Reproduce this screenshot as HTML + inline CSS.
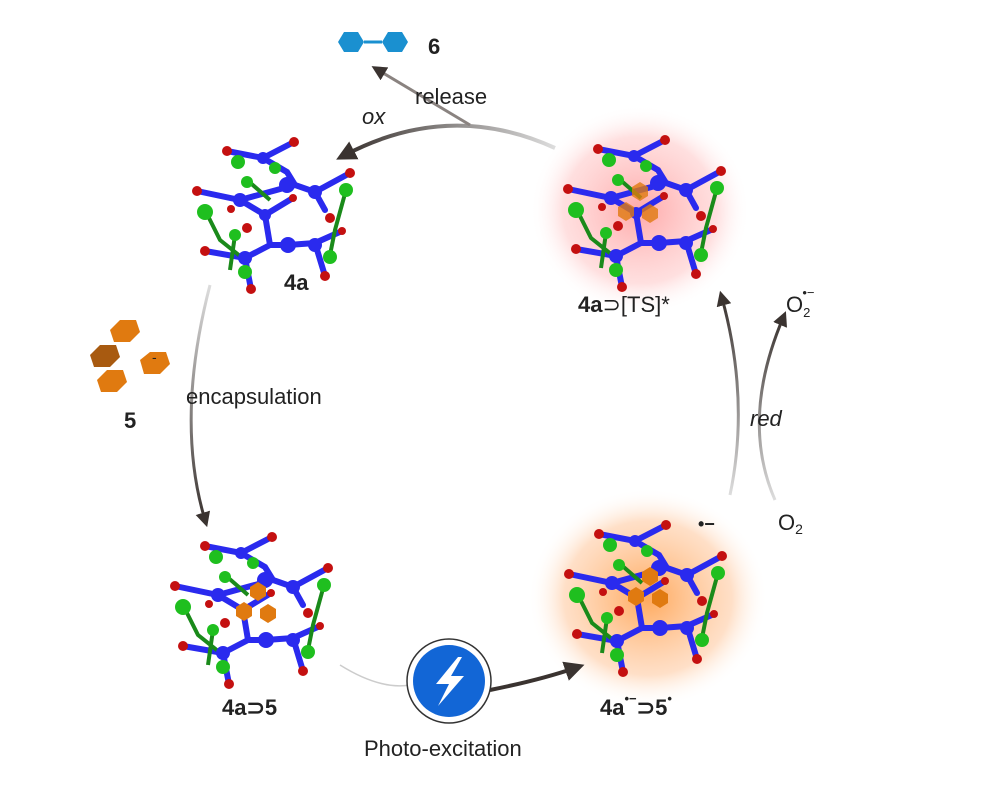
<!DOCTYPE html>
<html><head><meta charset="utf-8"><style>
html,body{margin:0;padding:0;background:#fff;}
svg{display:block;}
text{font-family:"Liberation Sans",sans-serif;fill:#222;}
</style></head><body>
<svg width="996" height="801" viewBox="0 0 996 801" xmlns="http://www.w3.org/2000/svg">
<defs>
<radialGradient id="gr" cx="0.5" cy="0.5" r="0.5"><stop offset="0" stop-color="#ff9a9a" stop-opacity="0.85"/><stop offset="0.7" stop-color="#ffc0c0" stop-opacity="0.5"/><stop offset="1" stop-color="#fff" stop-opacity="0"/></radialGradient>
<radialGradient id="go" cx="0.5" cy="0.5" r="0.5"><stop offset="0" stop-color="#ff9a40" stop-opacity="0.85"/><stop offset="0.7" stop-color="#ffc090" stop-opacity="0.5"/><stop offset="1" stop-color="#fff" stop-opacity="0"/></radialGradient>
<linearGradient id="gt" x1="1" y1="0" x2="0" y2="0"><stop offset="0" stop-color="#ddd"/><stop offset="1" stop-color="#3a3330"/></linearGradient>
<linearGradient id="gl" x1="0" y1="0" x2="0" y2="1"><stop offset="0" stop-color="#ddd"/><stop offset="1" stop-color="#3a3330"/></linearGradient>
<linearGradient id="gv" x1="0" y1="1" x2="0" y2="0"><stop offset="0" stop-color="#ddd"/><stop offset="1" stop-color="#3a3330"/></linearGradient>
<marker id="ah" viewBox="0 0 10 10" refX="5" refY="5" markerWidth="5" markerHeight="5" orient="auto"><path d="M0,0 L10,5 L0,10 z" fill="#3a3330"/></marker>
<g id="cage">
 <g stroke="#2a2aee" stroke-width="6" stroke-linecap="round" fill="none">
  <path d="M57,31 L93,38 L124,22 M93,38 L117,52 L125,65 L145,72 L180,53 M27,71 L70,80 L125,65 M70,80 L95,95 L123,78 M95,95 L100,125 L118,125 L145,123 L172,111 M100,125 L75,138 L35,131 M75,138 L81,169 M145,72 L155,90 M145,123 L155,156"/>
 </g>
 <g stroke="#1a8a1a" stroke-width="4" fill="none">
  <path d="M35,90 L50,120 L75,140 M65,115 L60,150 M176,70 L165,110 L160,135 M77,60 L100,80"/>
 </g>
 <g fill="#1fbf1f">
  <circle cx="68" cy="42" r="7"/><circle cx="77" cy="62" r="6"/><circle cx="35" cy="92" r="8"/><circle cx="176" cy="70" r="7"/><circle cx="65" cy="115" r="6"/><circle cx="160" cy="137" r="7"/><circle cx="75" cy="152" r="7"/><circle cx="105" cy="48" r="6"/>
 </g>
 <g fill="#2a2aee">
  <circle cx="93" cy="38" r="6"/><circle cx="117" cy="65" r="8"/><circle cx="70" cy="80" r="7"/><circle cx="145" cy="72" r="7"/><circle cx="95" cy="95" r="6"/><circle cx="118" cy="125" r="8"/><circle cx="145" cy="125" r="7"/><circle cx="75" cy="138" r="7"/>
 </g>
 <g fill="#c41010">
  <circle cx="57" cy="31" r="5"/><circle cx="124" cy="22" r="5"/><circle cx="180" cy="53" r="5"/><circle cx="27" cy="71" r="5"/><circle cx="61" cy="89" r="4"/><circle cx="77" cy="108" r="5"/><circle cx="123" cy="78" r="4"/><circle cx="160" cy="98" r="5"/><circle cx="172" cy="111" r="4"/><circle cx="35" cy="131" r="5"/><circle cx="81" cy="169" r="5"/><circle cx="155" cy="156" r="5"/>
 </g>
</g>
<g id="guest" fill="#e07a10">
 <path d="M0,-18 l8,5 0,9 -8,5 -8,-5 0,-9z"/><path d="M-14,2 l8,5 0,9 -8,5 -8,-5 0,-9z"/><path d="M10,4 l8,5 0,9 -8,5 -8,-5 0,-9z"/>
</g>
</defs>

<ellipse cx="640" cy="210" rx="110" ry="105" fill="url(#gr)"/>
<ellipse cx="648" cy="598" rx="120" ry="110" fill="url(#go)"/>

<use href="#cage" x="170" y="120"/>
<use href="#cage" x="541" y="118"/>
<use href="#guest" x="640" y="200" opacity="0.8"/>
<use href="#cage" x="148" y="515"/>
<use href="#guest" x="258" y="600"/>
<use href="#cage" x="542" y="503"/>
<use href="#guest" x="650" y="585"/>

<path d="M555,148 Q450,100 345,155" fill="none" stroke="url(#gt)" stroke-width="4" marker-end="url(#ah)"/>
<path d="M470,125 Q420,95 378,70" fill="none" stroke="#8a8380" stroke-width="3" marker-end="url(#ah)"/>
<path d="M210,285 Q175,420 205,520" fill="none" stroke="url(#gl)" stroke-width="3" marker-end="url(#ah)"/>
<path d="M340,665 Q380,690 410,685" fill="none" stroke="#ccc" stroke-width="1.5"/>
<path d="M490,690 Q540,680 575,668" fill="none" stroke="#3a3330" stroke-width="4" marker-end="url(#ah)"/>
<path d="M730,495 Q750,400 722,298" fill="none" stroke="url(#gv)" stroke-width="3" marker-end="url(#ah)"/>
<path d="M775,500 Q740,420 783,318" fill="none" stroke="url(#gv)" stroke-width="3" marker-end="url(#ah)"/>

<path d="M338,42 l6,-10 14,0 6,10 -6,10 -14,0z" fill="#1a90d0"/>
<path d="M382,42 l6,-10 14,0 6,10 -6,10 -14,0z" fill="#1a90d0"/>
<line x1="364" y1="42" x2="382" y2="42" stroke="#1a90d0" stroke-width="3"/>
<text x="428" y="54" font-size="22" font-weight="bold">6</text>

<g fill="#e07a10">
 <path d="M110,330 l10,-10 16,0 4,12 -10,10 -16,0z"/>
 <path d="M90,355 l10,-10 16,0 4,12 -10,10 -16,0z" fill="#a85a10"/>
 <path d="M97,380 l10,-10 16,0 4,12 -10,10 -16,0z"/>
 <path d="M140,360 l10,-8 16,0 4,12 -10,10 -16,0z"/>
</g>
<text x="152" y="362" font-size="14">-</text>
<text x="124" y="428" font-size="22" font-weight="bold">5</text>

<circle cx="449" cy="681" r="42" fill="#fff" stroke="#333" stroke-width="1.5"/>
<circle cx="449" cy="681" r="36" fill="#1266d6"/>
<path d="M458,657 L436,684 L449,684 L438,706 L464,676 L451,676 L462,657z" fill="#fff"/>

<text x="415" y="104" font-size="22">release</text>
<text x="362" y="124" font-size="22" font-style="italic">ox</text>
<text x="284" y="290" font-size="22" font-weight="bold">4a</text>
<text x="578" y="312" font-size="22"><tspan font-weight="bold">4a</tspan>⊃[TS]*</text>
<text x="786" y="312" font-size="22">O<tspan font-size="13" dy="5">2</tspan><tspan font-size="13" dx="-8" dy="-20">•−</tspan></text>
<text x="186" y="404" font-size="22">encapsulation</text>
<text x="750" y="426" font-size="22" font-style="italic">red</text>
<text x="698" y="530" font-size="18" font-weight="bold">•−</text>
<text x="778" y="530" font-size="22">O<tspan font-size="14" dy="4">2</tspan></text>
<text x="222" y="715" font-size="22" font-weight="bold">4a⊃5</text>
<text x="600" y="715" font-size="22" font-weight="bold">4a<tspan font-size="13" dy="-12">•−</tspan><tspan dy="12">⊃5</tspan><tspan font-size="13" dy="-12">•</tspan></text>
<text x="364" y="756" font-size="22">Photo-excitation</text>
</svg>
</body></html>
